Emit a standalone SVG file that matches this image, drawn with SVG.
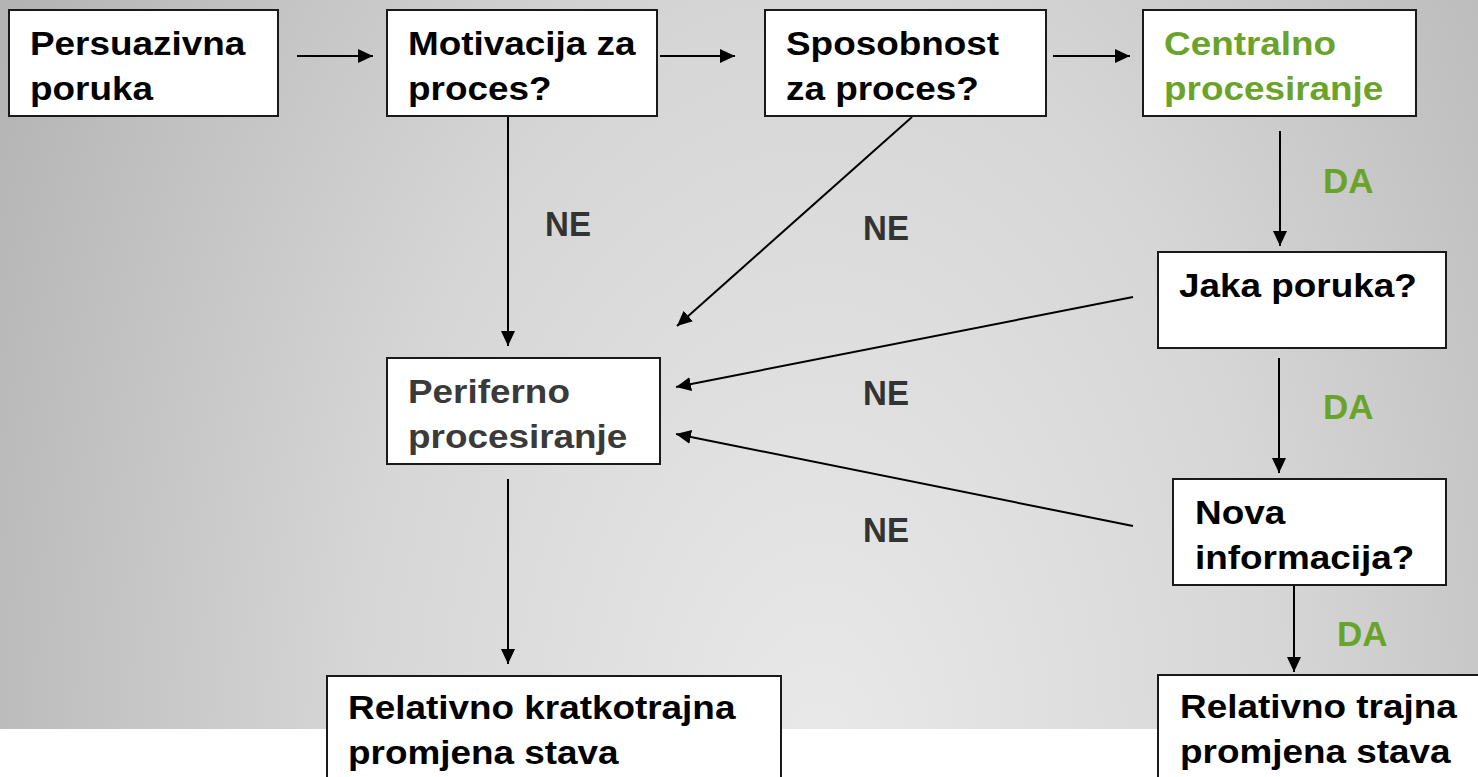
<svg xmlns="http://www.w3.org/2000/svg" width="1478" height="777" viewBox="0 0 1478 777">
<defs>
<radialGradient id="bg" gradientUnits="userSpaceOnUse" cx="0" cy="0" r="1" gradientTransform="translate(820,760) scale(930,1500)">
<stop offset="0" stop-color="#e9e9e9"/>
<stop offset="0.5" stop-color="#d6d6d6"/>
<stop offset="1" stop-color="#b4b4b4"/>
</radialGradient>
<marker id="ah" markerUnits="userSpaceOnUse" markerWidth="16" markerHeight="14" refX="15" refY="7" orient="auto">
<path d="M0,0 L15,7 L0,14 Z" fill="#000"/>
</marker>
<style>
.box{fill:#fff;stroke:#1a1a1a;stroke-width:2}
.t{font-family:"Liberation Sans",Arial,sans-serif;font-weight:bold;font-size:34px;fill:#000}
.g{fill:#6aa329}
.p{fill:#3a3a3a}
.ne{font-family:"Liberation Sans",Arial,sans-serif;font-weight:bold;font-size:36px;fill:#333}
.da{font-family:"Liberation Sans",Arial,sans-serif;font-weight:bold;font-size:35px;fill:#6aa329}
.c line{stroke:#000;stroke-width:2;marker-end:url(#ah)}
</style>
</defs>
<rect x="0" y="0" width="1478" height="777" fill="#fff"/>
<rect x="0" y="0" width="1478" height="729" fill="url(#bg)"/>

<g id="connectors" class="c">
<line x1="297" y1="56" x2="373" y2="56"/>
<line x1="660" y1="56" x2="735" y2="56"/>
<line x1="1053" y1="56" x2="1130" y2="56"/>
<line x1="508" y1="117" x2="508" y2="346"/>
<line x1="912" y1="117" x2="677" y2="326"/>
<line x1="1280" y1="131" x2="1280" y2="246"/>
<line x1="1133" y1="297" x2="676" y2="387"/>
<line x1="1279" y1="358" x2="1279" y2="473"/>
<line x1="1133" y1="526" x2="676" y2="434"/>
<line x1="1294" y1="585" x2="1294" y2="672"/>
<line x1="508" y1="479" x2="508" y2="664"/>
</g>

<g id="labels">
<text class="ne" transform="translate(545,236) scale(0.92,1)">NE</text>
<text class="ne" transform="translate(863,240) scale(0.92,1)">NE</text>
<text class="ne" transform="translate(863,405) scale(0.92,1)">NE</text>
<text class="ne" transform="translate(863,542) scale(0.92,1)">NE</text>
<text class="da" x="1323" y="193">DA</text>
<text class="da" x="1323" y="419">DA</text>
<text class="da" x="1337" y="646">DA</text>
</g>

<g id="n-persuazivna">
<rect class="box" x="9" y="10" width="269" height="106"/>
<text class="t" transform="translate(30,55) scale(1.085,1)"><tspan x="0" y="0">Persuazivna</tspan><tspan x="0" y="45">poruka</tspan></text>
</g>
<g id="n-motivacija">
<rect class="box" x="387" y="10" width="270" height="106"/>
<text class="t" transform="translate(408,55) scale(1.085,1)"><tspan x="0" y="0">Motivacija za</tspan><tspan x="0" y="45">proces?</tspan></text>
</g>
<g id="n-sposobnost">
<rect class="box" x="765" y="10" width="281" height="106"/>
<text class="t" transform="translate(786,55) scale(1.085,1)"><tspan x="0" y="0">Sposobnost</tspan><tspan x="0" y="45">za proces?</tspan></text>
</g>
<g id="n-centralno">
<rect class="box" x="1143" y="10" width="273" height="106"/>
<text class="t g" transform="translate(1164,55) scale(1.085,1)"><tspan x="0" y="0">Centralno</tspan><tspan x="0" y="45">procesiranje</tspan></text>
</g>
<g id="n-jaka">
<rect class="box" x="1158" y="252" width="288" height="96"/>
<text class="t" transform="translate(1179,297) scale(1.085,1)">Jaka poruka?</text>
</g>
<g id="n-periferno">
<rect class="box" x="387" y="358" width="273" height="106"/>
<text class="t p" transform="translate(408,403) scale(1.085,1)"><tspan x="0" y="0">Periferno</tspan><tspan x="0" y="45">procesiranje</tspan></text>
</g>
<g id="n-nova">
<rect class="box" x="1173" y="479" width="273" height="106"/>
<text class="t" transform="translate(1195,524) scale(1.085,1)"><tspan x="0" y="0">Nova</tspan><tspan x="0" y="45">informacija?</tspan></text>
</g>
<g id="n-kratkotrajna">
<rect class="box" x="327" y="676" width="454" height="120"/>
<text class="t" transform="translate(348,719) scale(1.085,1)"><tspan x="0" y="0">Relativno kratkotrajna</tspan><tspan x="0" y="45">promjena stava</tspan></text>
</g>
<g id="n-trajna">
<rect class="box" x="1158" y="675" width="340" height="120"/>
<text class="t" transform="translate(1180,718) scale(1.085,1)"><tspan x="0" y="0">Relativno trajna</tspan><tspan x="0" y="45">promjena stava</tspan></text>
</g>
</svg>
